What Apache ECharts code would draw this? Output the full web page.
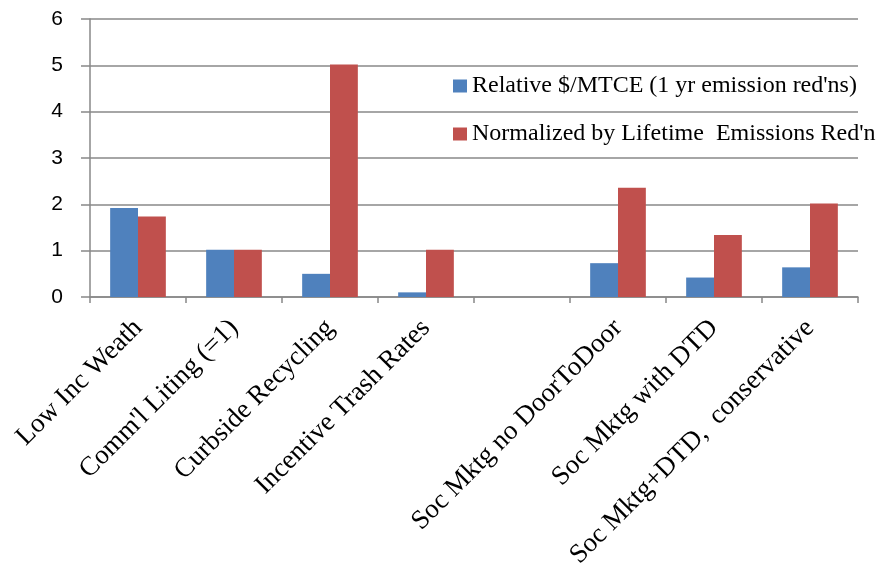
<!DOCTYPE html>
<html>
<head>
<meta charset="utf-8">
<script src="https://cdn.jsdelivr.net/npm/echarts@6/dist/echarts.min.js"></script>
<style>html,body{margin:0;padding:0;background:#fff;}#c{width:878px;height:565px;}</style>
</head>
<body>
<div id="c"></div>
<script>
var categories = ["Low Inc Weath", "Comm'l Liting (=1)", "Curbside Recycling", "Incentive Trash Rates", "", "Soc Mktg no DoorToDoor", "Soc Mktg with DTD", "Soc Mktg+DTD,  conservative"];
var seriesNames = ["Relative $/MTCE (1 yr emission red'ns)", "Normalized by Lifetime  Emissions Red'n"];
var relativeValues = [1.92, 1.02, 0.5, 0.1, null, 0.73, 0.42, 0.64];
var lifetimeValues = [1.74, 1.02, 5.02, 1.02, null, 2.36, 1.34, 2.02];
var yTicks = [0, 1, 2, 3, 4, 5, 6];

var chart = echarts.init(document.getElementById('c'), null, {renderer: 'canvas'});
chart.setOption({
  animation: false,
  backgroundColor: '#fff',
  grid: {left: 90, right: 20, top: 19, bottom: 268, containLabel: false, outerBoundsMode: 'none'},
  legend: {
    orient: 'vertical',
    left: 453,
    top: 73,
    padding: 0,
    itemWidth: 14,
    itemHeight: 13,
    itemGap: 22,
    icon: 'rect',
    textStyle: {fontFamily: 'Liberation Serif', fontSize: 24, color: '#000', lineHeight: 26},
    data: seriesNames
  },
  xAxis: {
    type: 'category',
    data: categories,
    axisLine: {show: true, lineStyle: {color: '#888', width: 1.5}},
    axisTick: {show: true, interval: 0, length: 6, lineStyle: {color: '#888', width: 1.5}},
    axisLabel: {
      interval: 0, rotate: 45, margin: 27,
      fontFamily: 'Liberation Serif', fontSize: 27, color: '#000'
    },
    splitLine: {show: false}
  },
  yAxis: {
    type: 'value',
    min: yTicks[0],
    max: yTicks[yTicks.length - 1],
    interval: 1,
    axisLine: {show: true, lineStyle: {color: '#888', width: 1.5}},
    axisTick: {show: true, length: 9, lineStyle: {color: '#888', width: 1.5}},
    axisLabel: {margin: 27, fontFamily: 'Liberation Sans', fontSize: 21, color: '#000'},
    splitLine: {show: true, lineStyle: {color: '#888', width: 1.5}}
  },
  series: [
    {name: seriesNames[0], type: 'bar', data: relativeValues, barGap: '0%', barCategoryGap: '42%',
     itemStyle: {color: '#4F81BD'}},
    {name: seriesNames[1], type: 'bar', data: lifetimeValues, barGap: '0%', barCategoryGap: '42%',
     itemStyle: {color: '#C0504D'}}
  ]
});
</script>
</body>
</html>
